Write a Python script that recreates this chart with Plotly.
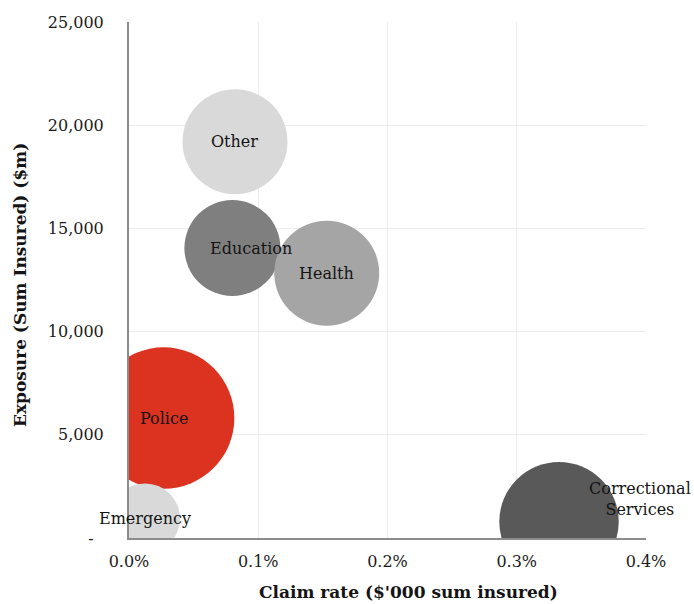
import plotly.graph_objects as go

# Portfolio segments: claim rate (fraction of sum insured), exposure ($m) and bubble weight
segments = ["Other", "Education", "Health", "Police", "Emergency", "Correctional<br>Services"]
claim_rate = [0.00082, 0.00080, 0.00153, 0.000268, 0.000124, 0.003327]
exposure = [19200, 14050, 12830, 5810, 950, 790]
bubble_weight = [55.1, 46.1, 55.1, 100.0, 24.5, 71.3]

y_tick_vals = [0, 5000, 10000, 15000, 20000, 25000]
y_tick_text = ["-\u00a0\u00a0", "5,000", "10,000", "15,000", "20,000", "25,000"]
x_tick_vals = [0, 0.001, 0.002, 0.003, 0.004]

x_title = "Claim rate ($'000 sum insured)"
y_title = "Exposure (Sum Insured) ($m)"

colors = ["#d9d9d9", "#7f7f7f", "#a5a5a5", "#dc3220", "#d9d9d9", "#595959"]
label_shift = {"Education": (19, 0), "Correctional<br>Services": (81, 23)}

FONT = "Georgia, 'DejaVu Serif', serif"

fig = go.Figure(
    go.Scatter(
        x=claim_rate,
        y=exposure,
        mode="markers",
        marker=dict(
            size=bubble_weight,
            sizemode="area",
            sizeref=0.01,
            color=colors,
            opacity=1,
            line=dict(width=0),
        ),
        cliponaxis=True,
        hoverinfo="skip",
        showlegend=False,
    )
)

for name, xv, yv in zip(segments, claim_rate, exposure):
    dx, dy = label_shift.get(name, (0, 0))
    fig.add_annotation(
        x=xv, y=yv, text=name, showarrow=False,
        xshift=dx, yshift=dy,
        font=dict(family=FONT, size=16, color="#141414"),
        align="center",
    )

# Axis titles
fig.add_annotation(
    xref="paper", yref="paper", x=0.54, y=-0.105,
    xanchor="center", yanchor="middle", showarrow=False,
    text=f"<b>{x_title}</b>", font=dict(family=FONT, size=17, color="#141414"),
)
fig.add_annotation(
    xref="paper", yref="paper", x=-0.211, y=0.49,
    xanchor="center", yanchor="middle", showarrow=False, textangle=-90,
    text=f"<b>{y_title}</b>", font=dict(family=FONT, size=17, color="#141414"),
)

fig.update_layout(
    width=694,
    height=604,
    margin=dict(l=129, r=48, t=22, b=66),
    paper_bgcolor="white",
    plot_bgcolor="white",
    font=dict(family=FONT, size=16, color="#1a1a1a"),
    xaxis=dict(
        range=[0, 0.004],
        tickvals=x_tick_vals,
        tickformat=".1%",
        showgrid=True,
        gridcolor="#ececec",
        gridwidth=1,
        zeroline=False,
        showline=True,
        linecolor="#8c8c8c",
        linewidth=2,
        ticks="outside",
        ticklen=8,
        tickcolor="rgba(0,0,0,0)",
        automargin=False,
    ),
    yaxis=dict(
        range=[0, 25000],
        tickvals=y_tick_vals,
        ticktext=y_tick_text,
        showgrid=True,
        gridcolor="#ececec",
        gridwidth=1,
        zeroline=False,
        showline=True,
        linecolor="#8c8c8c",
        linewidth=2,
        ticks="outside",
        ticklen=20,
        tickcolor="rgba(0,0,0,0)",
        automargin=False,
    ),
)

fig.write_html("out.html")
